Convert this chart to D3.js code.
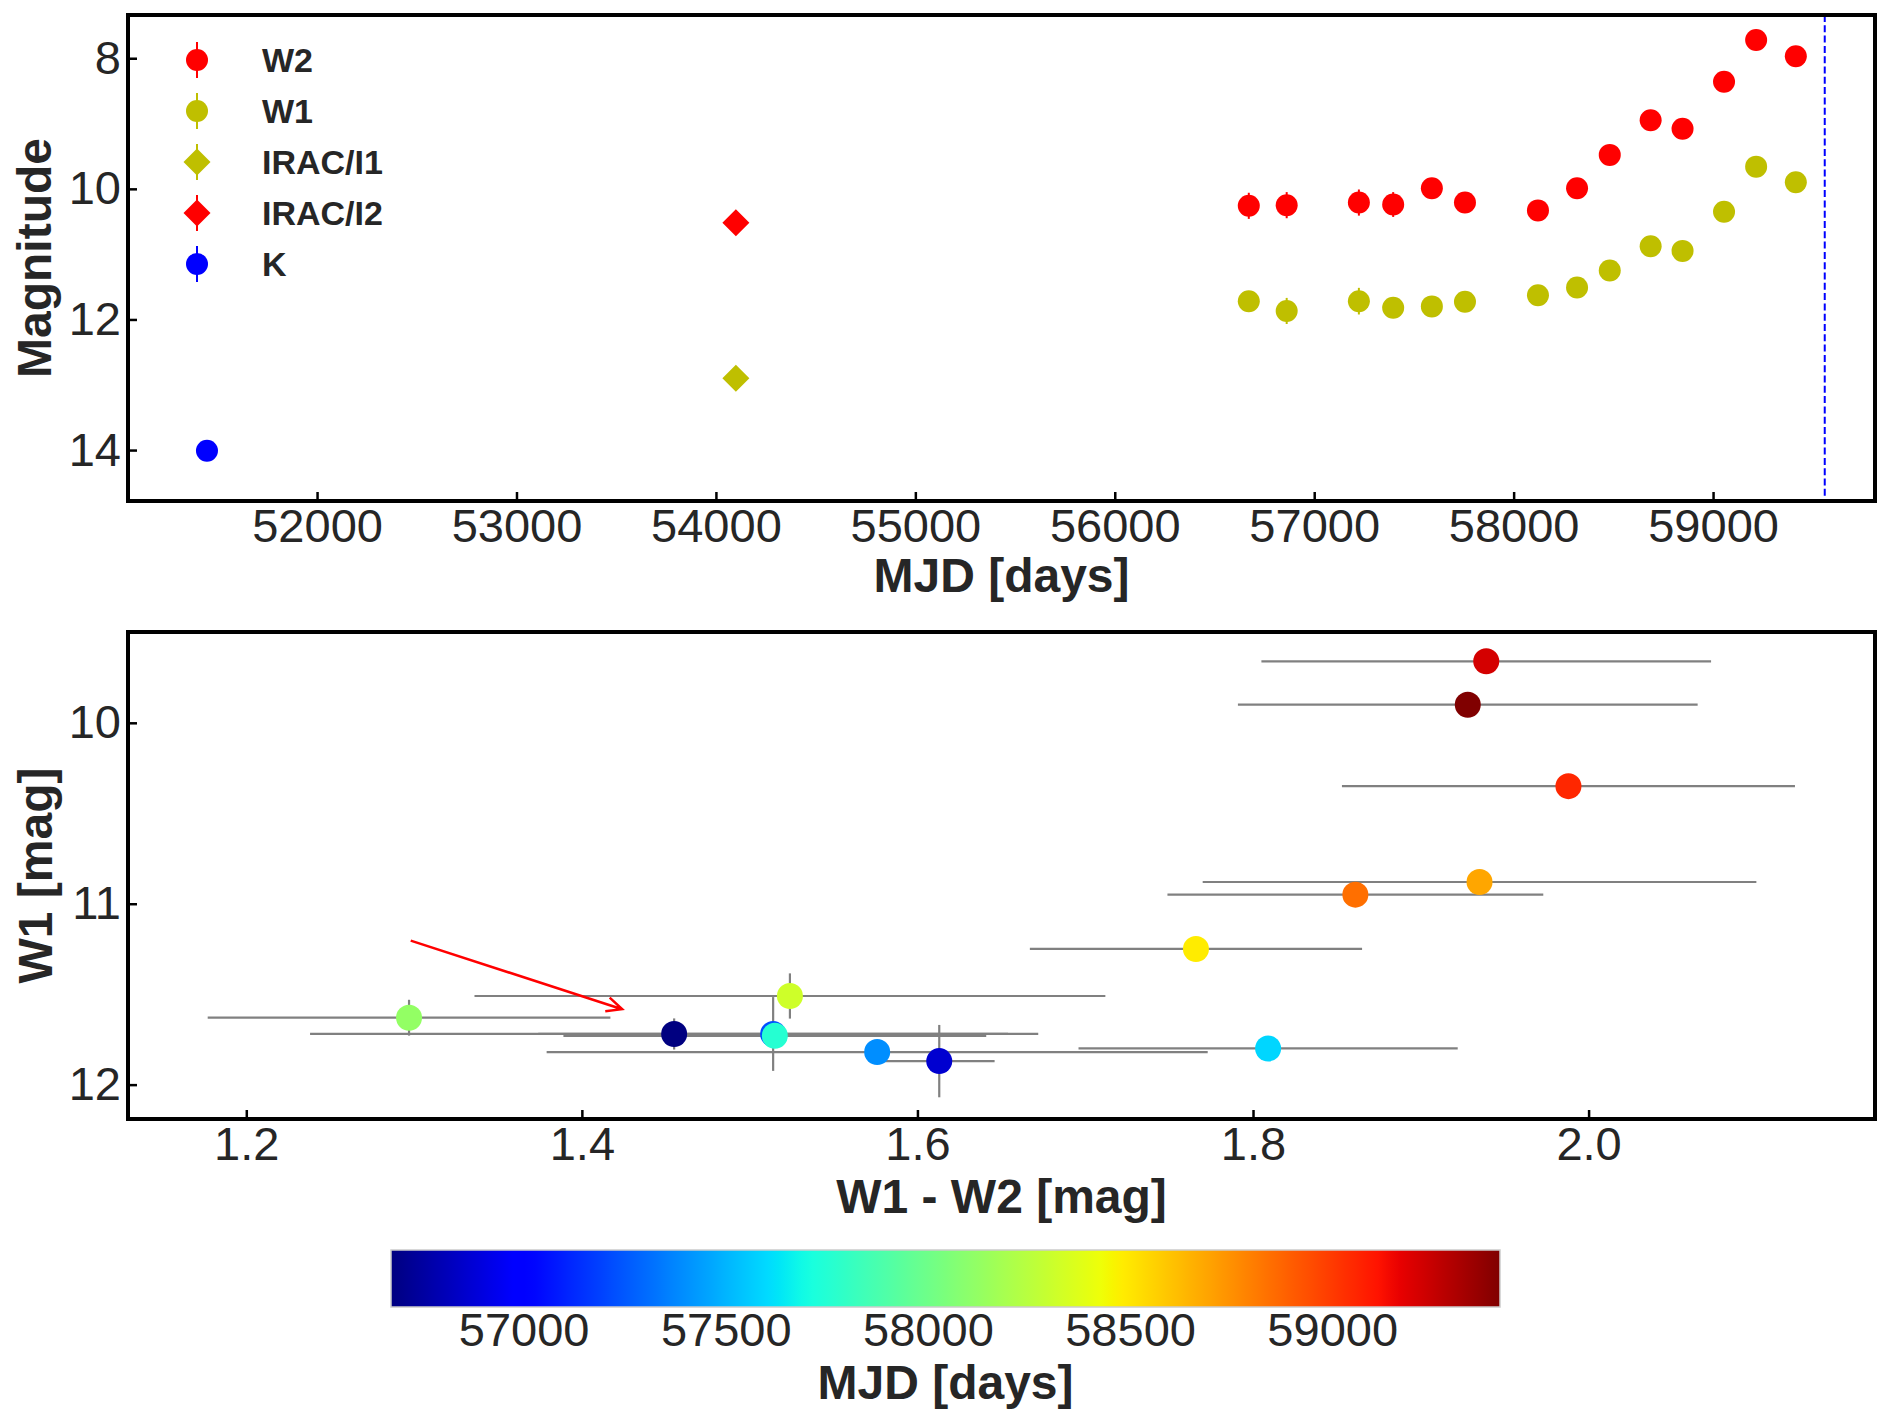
<!DOCTYPE html>
<html lang="en">
<head>
<meta charset="UTF-8">
<title>WISE light curve and colour-magnitude diagram</title>
<script src="https://d3js.org/d3.v7.min.js"></script>
<style>
  body { margin: 0; background: #fff; }
  svg { display: block; font-family: "Liberation Sans", Arial, sans-serif; }
  .tick text { font-size: 47px; fill: #262626; }
  .tick line { stroke: #000; stroke-width: 2.5; }
  .domain { display: none; }
  .axis-label { font-size: 48px; font-weight: bold; fill: #262626; }
  .legend text { font-size: 34px; font-weight: bold; fill: #262626; }
</style>
</head>
<body>
<svg width="1888" height="1421"></svg>
<script>
// WISE epochs
const mjdWise = [56672, 56862, 57224, 57396, 57590, 57756, 58122, 58318, 58482, 58687, 58847, 59055, 59216, 59415];
const w2    = [10.26, 10.25, 10.21, 10.24, 9.99, 10.21, 10.33, 9.99, 9.48, 8.95, 9.08, 8.36, 7.72, 7.97];
const w2Err = [0.20, 0.20, 0.20, 0.19, 0.10, 0.10, 0.10, 0.10, 0.10, 0.10, 0.10, 0.10, 0.10, 0.10];
const w1    = [11.72, 11.87, 11.72, 11.82, 11.80, 11.73, 11.63, 11.51, 11.25, 10.88, 10.95, 10.35, 9.66, 9.90];
const w1Err = [0.086, 0.20, 0.204, 0.05, 0.05, 0.05, 0.099, 0.125, 0.05, 0.05, 0.05, 0.05, 0.05, 0.05];
// colour as plotted in the lower panel
const w1w2    = [1.455, 1.613, 1.514, 1.576, 1.809, 1.515, 1.297, 1.524, 1.766, 1.935, 1.861, 1.988, 1.939, 1.928];
const w1w2Err = [0.217, 0.033, 0.14, 0.197, 0.113, 0.126, 0.12, 0.188, 0.099, 0.165, 0.112, 0.135, 0.134, 0.137];

// single epochs
const mjdIrac = [54100];
const irac1 = [12.90], irac1Err = [0.05];
const irac2 = [10.52], irac2Err = [0.05];
const mjdK = [51448];
const kMag = [14.01], kErr = [0.05];

const lineMjd = 59560;
const arrowFrom = [1.298, 11.204];
const arrowTo = [1.424, 11.583];

const mjdTicks = [52000, 53000, 54000, 55000, 56000, 57000, 58000, 59000];
const magTicks = [8, 10, 12, 14];
const colourTicks = [1.2, 1.4, 1.6, 1.8, 2.0];
const w1Ticks = [10, 11, 12];
const cbarTicks = [57000, 57500, 58000, 58500, 59000];

const legendItems = [
  { label: "W2", color: "#ff0000", shape: "circle" },
  { label: "W1", color: "#bfbf00", shape: "circle" },
  { label: "IRAC/I1", color: "#bfbf00", shape: "diamond" },
  { label: "IRAC/I2", color: "#ff0000", shape: "diamond" },
  { label: "K", color: "#0000ff", shape: "circle" }
];

const svg = d3.select("svg");
const L = 128, R = 1875;
const top1 = { t: 15, b: 501 }, top2 = { t: 632, b: 1119 };

// jet colormap
const jetR = d3.scaleLinear().domain([0, 0.35, 0.66, 0.89, 1]).range([0, 0, 1, 1, 0.5]).clamp(true);
const jetG = d3.scaleLinear().domain([0, 0.125, 0.375, 0.64, 0.91, 1]).range([0, 0, 1, 1, 0, 0]).clamp(true);
const jetB = d3.scaleLinear().domain([0, 0.11, 0.34, 0.65, 1]).range([0.5, 1, 1, 0, 0]).clamp(true);
const jet = t => d3.rgb(jetR(t) * 255, jetG(t) * 255, jetB(t) * 255).formatHex();
const cnorm = d3.scaleLinear().domain(d3.extent(mjdWise)).range([0, 1]).clamp(true);

const diamond = r => `M0,${-r}L${r},0L0,${r}L${-r},0Z`;

// ---------- upper panel: light curve ----------
const x1 = d3.scaleLinear().domain([51052, 59812]).range([L, R]);
const y1 = d3.scaleLinear().domain([7.338, 14.78]).range([top1.t, top1.b]);
const g1 = svg.append("g");

function errPoints(g, xs, ys, es, color, shape) {
  xs.forEach((xv, i) => {
    g.append("line")
      .attr("x1", x1(xv)).attr("x2", x1(xv))
      .attr("y1", y1(ys[i] - es[i])).attr("y2", y1(ys[i] + es[i]))
      .attr("stroke", color).attr("stroke-width", 2);
    if (shape === "diamond") {
      g.append("path").attr("d", diamond(13.5))
        .attr("transform", `translate(${x1(xv)},${y1(ys[i])})`)
        .attr("fill", color);
    } else {
      g.append("circle").attr("cx", x1(xv)).attr("cy", y1(ys[i])).attr("r", 11).attr("fill", color);
    }
  });
}
errPoints(g1, mjdWise, w2, w2Err, "#ff0000", "circle");
errPoints(g1, mjdWise, w1, w1Err, "#bfbf00", "circle");
errPoints(g1, mjdIrac, irac1, irac1Err, "#bfbf00", "diamond");
errPoints(g1, mjdIrac, irac2, irac2Err, "#ff0000", "diamond");
errPoints(g1, mjdK, kMag, kErr, "#0000ff", "circle");

g1.append("line")
  .attr("x1", x1(lineMjd)).attr("x2", x1(lineMjd))
  .attr("y1", top1.t).attr("y2", top1.b)
  .attr("stroke", "#0000ff").attr("stroke-width", 2).attr("stroke-dasharray", "7,3.3");

g1.append("g").attr("transform", `translate(0,${top1.b})`)
  .call(d3.axisBottom(x1).tickValues(mjdTicks).tickFormat(d3.format("d")).tickSizeInner(-9).tickSizeOuter(0).tickPadding(8));
g1.append("g").attr("transform", `translate(${L},0)`)
  .call(d3.axisLeft(y1).tickValues(magTicks).tickFormat(d3.format("d")).tickSizeInner(-9).tickSizeOuter(0).tickPadding(7));

g1.append("rect").attr("x", L).attr("y", top1.t).attr("width", R - L).attr("height", top1.b - top1.t)
  .attr("fill", "none").attr("stroke", "#000").attr("stroke-width", 4);

// legend
const leg = g1.append("g").attr("class", "legend");
legendItems.forEach((d, i) => {
  const cy = 60 + i * 51;
  leg.append("line").attr("x1", 197).attr("x2", 197).attr("y1", cy - 18).attr("y2", cy + 18)
    .attr("stroke", d.color).attr("stroke-width", 2);
  if (d.shape === "diamond") {
    leg.append("path").attr("d", diamond(13.5)).attr("transform", `translate(197,${cy})`).attr("fill", d.color);
  } else {
    leg.append("circle").attr("cx", 197).attr("cy", cy).attr("r", 11).attr("fill", d.color);
  }
  leg.append("text").attr("x", 262).attr("y", cy + 12).text(d.label);
});

g1.append("text").attr("class", "axis-label").attr("text-anchor", "middle")
  .attr("x", (L + R) / 2).attr("y", 592).text("MJD [days]");
g1.append("text").attr("class", "axis-label").attr("text-anchor", "middle")
  .attr("transform", `translate(51,${(top1.t + top1.b) / 2}) rotate(-90)`).text("Magnitude");

// ---------- lower panel: colour-magnitude ----------
const x2 = d3.scaleLinear().domain([1.1295, 2.1707]).range([L, R]);
const y2 = d3.scaleLinear().domain([9.498, 12.19]).range([top2.t, top2.b]);
const g2 = svg.append("g");

mjdWise.forEach((m, i) => {
  g2.append("line")
    .attr("x1", x2(w1w2[i] - w1w2Err[i])).attr("x2", x2(w1w2[i] + w1w2Err[i]))
    .attr("y1", y2(w1[i])).attr("y2", y2(w1[i]))
    .attr("stroke", "#808080").attr("stroke-width", 2.2);
  g2.append("line")
    .attr("x1", x2(w1w2[i])).attr("x2", x2(w1w2[i]))
    .attr("y1", y2(w1[i] - w1Err[i])).attr("y2", y2(w1[i] + w1Err[i]))
    .attr("stroke", "#808080").attr("stroke-width", 2.2);
});
g2.selectAll("circle.cmd")
  .data(mjdWise)
  .join("circle")
  .attr("class", "cmd")
  .attr("cx", (d, i) => x2(w1w2[i]))
  .attr("cy", (d, i) => y2(w1[i]))
  .attr("r", 13)
  .attr("fill", d => jet(cnorm(d)));

// arrow
const ax0 = x2(arrowFrom[0]), ay0 = y2(arrowFrom[1]);
const ax1 = x2(arrowTo[0]), ay1 = y2(arrowTo[1]);
const ang = Math.atan2(ay0 - ay1, ax0 - ax1);
const head = 17, spread = 25 * Math.PI / 180;
g2.append("path")
  .attr("d", `M${ax0},${ay0}L${ax1},${ay1}` +
    `M${ax1 + head * Math.cos(ang + spread)},${ay1 + head * Math.sin(ang + spread)}L${ax1},${ay1}` +
    `L${ax1 + head * Math.cos(ang - spread)},${ay1 + head * Math.sin(ang - spread)}`)
  .attr("fill", "none").attr("stroke", "#ff0000").attr("stroke-width", 2.5);

g2.append("g").attr("transform", `translate(0,${top2.b})`)
  .call(d3.axisBottom(x2).tickValues(colourTicks).tickFormat(d3.format(".1f")).tickSizeInner(-9).tickSizeOuter(0).tickPadding(8));
g2.append("g").attr("transform", `translate(${L},0)`)
  .call(d3.axisLeft(y2).tickValues(w1Ticks).tickFormat(d3.format("d")).tickSizeInner(-9).tickSizeOuter(0).tickPadding(7));

g2.append("rect").attr("x", L).attr("y", top2.t).attr("width", R - L).attr("height", top2.b - top2.t)
  .attr("fill", "none").attr("stroke", "#000").attr("stroke-width", 4);

g2.append("text").attr("class", "axis-label").attr("text-anchor", "middle")
  .attr("x", (L + R) / 2).attr("y", 1213).text("W1 - W2 [mag]");
g2.append("text").attr("class", "axis-label").attr("text-anchor", "middle")
  .attr("transform", `translate(52,${(top2.t + top2.b) / 2}) rotate(-90)`).text("W1 [mag]");

// ---------- colorbar ----------
const cb = { l: 391, r: 1500, t: 1250, b: 1307 };
const xc = d3.scaleLinear().domain(d3.extent(mjdWise)).range([cb.l, cb.r]);
const grad = svg.append("defs").append("linearGradient").attr("id", "jet")
  .attr("x1", "0%").attr("x2", "100%").attr("y1", "0%").attr("y2", "0%");
d3.range(0, 1.0001, 0.01).forEach(t => {
  grad.append("stop").attr("offset", `${t * 100}%`).attr("stop-color", jet(t));
});
svg.append("rect").attr("x", cb.l).attr("y", cb.t).attr("width", cb.r - cb.l).attr("height", cb.b - cb.t)
  .attr("fill", "url(#jet)").attr("stroke", "#cccccc").attr("stroke-width", 1.5);
svg.append("g").attr("transform", `translate(0,${cb.b})`)
  .call(d3.axisBottom(xc).tickValues(cbarTicks).tickFormat(d3.format("d")).tickSize(0).tickPadding(6));
svg.append("text").attr("class", "axis-label").attr("text-anchor", "middle")
  .attr("x", (cb.l + cb.r) / 2).attr("y", 1399).text("MJD [days]");
</script>
</body>
</html>
